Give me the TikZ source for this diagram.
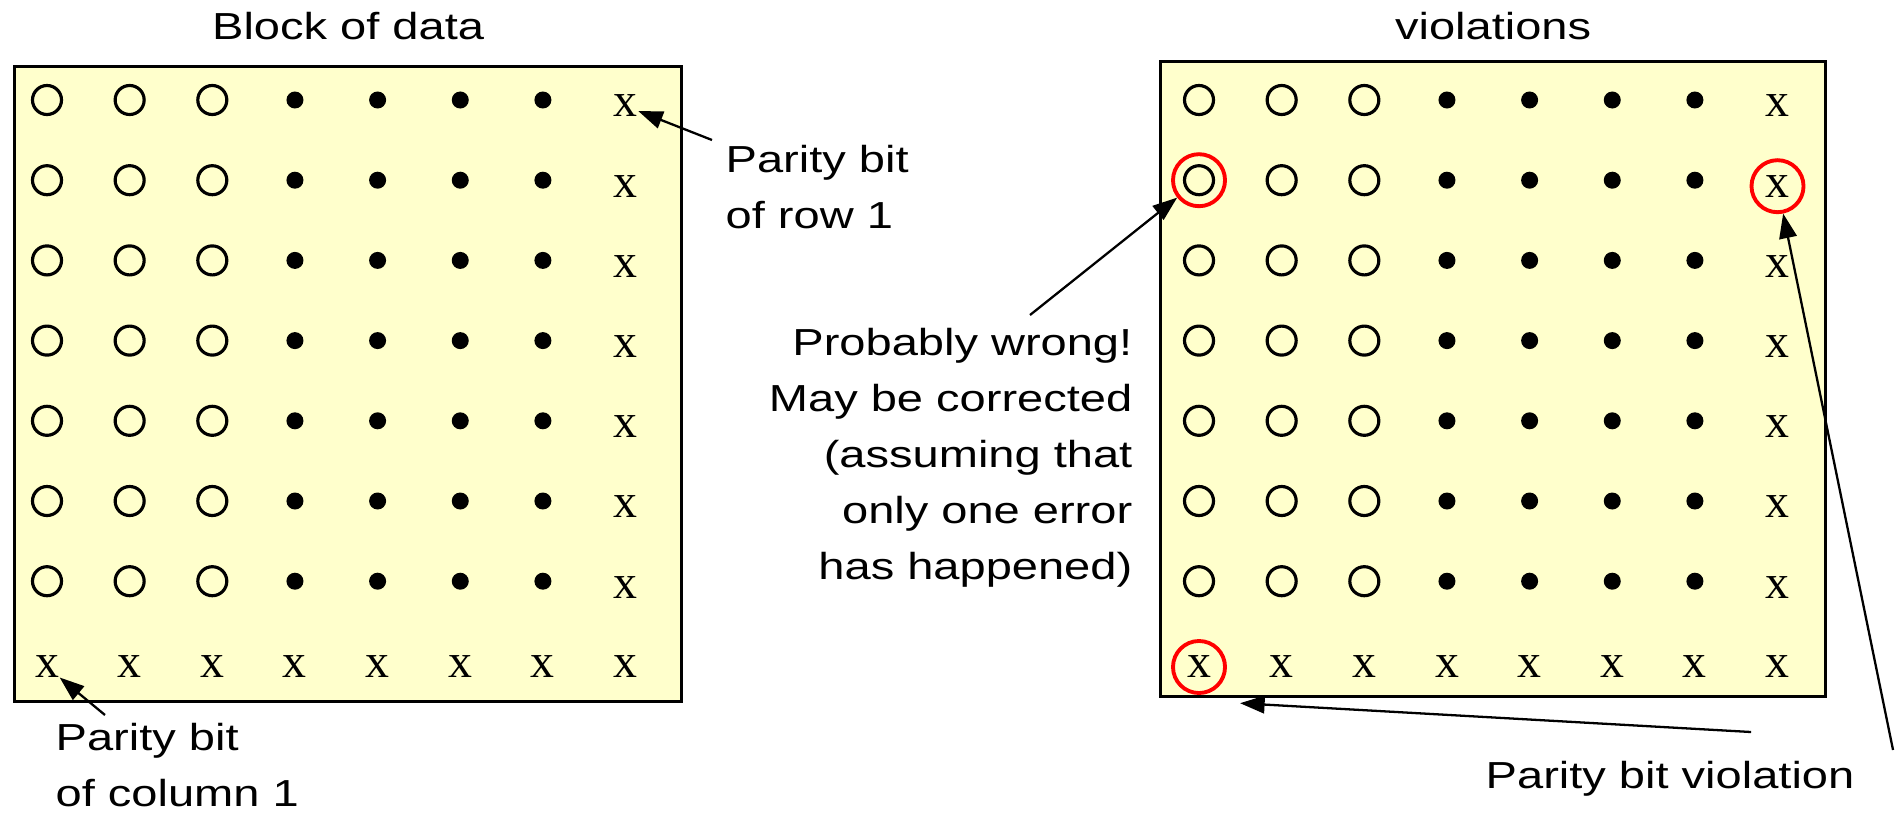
\documentclass[tikz,border=0pt]{standalone}
\usepackage{fontspec}
\usetikzlibrary{arrows.meta}
\newfontfamily\labelfont[FakeStretch=1.25]{Liberation Sans}
\newfontfamily\bitfont{Liberation Serif}
\definecolor{paper}{HTML}{FFFFCC}
\begin{document}
\begin{tikzpicture}
[x=0.01cm, y=-0.01cm,
  boxdecorate/.style={draw,line width=0.8pt,fill=paper,inner sep=0pt,anchor=north west},%
  holedecorate/.style={shape=circle,inner sep=0pt,minimum size=0.29cm,draw,line width=0.9pt},%
  dotdecorate/.style={shape=circle,inner sep=0pt,minimum size=0.17cm,fill=black},%
  bitdecorate/.style={inner sep=0pt,font=\fontsize{13.6}{16}\bitfont},%
  ringdecorate/.style={shape=circle,inner sep=0pt,minimum size=0.52cm,draw=red,line width=1.1pt},%
  textdecorate/.style={inner sep=0pt,font=\fontsize{10.7}{15.9}\labelfont},%
  linedecorate/.style={-{Triangle[length=7pt,width=5pt]},line width=0.65pt}]
\useasboundingbox (0,0) rectangle (1895,812);
%% blocks
\foreach \boxname/\x/\y/\w in {L/13/65/6.67cm, R/1159/60/6.65cm}
{
  \node (\boxname) at (\x,\y) [boxdecorate,minimum width=\w,minimum height=6.35cm] {};
}
%% bits of each block
\foreach \boxname/\xo in {L/47, R/1199}
{
  \foreach \row in {1,...,7}
  {
    \foreach \col in {1,2,3}
      \node (\boxname-\row-\col) at ({\xo+82.65*(\col-1)},{100+80.2*(\row-1)}) [holedecorate] {};
    \foreach \col in {4,...,7}
      \node (\boxname-\row-\col) at ({\xo+82.65*(\col-1)},{100+80.2*(\row-1)}) [dotdecorate] {};
    \node (\boxname-\row-8) at ({\xo+578.5},{106+80.2*(\row-1)}) [bitdecorate] {x};
  }
  \foreach \col in {1,...,8}
    \node (\boxname-8-\col) at ({\xo+82.65*(\col-1)},667) [bitdecorate] {x};
}
%% violations
\foreach \ringname/\target in {ringA/R-2-1, ringB/R-2-8, ringC/R-8-1}
{
  \node (\ringname) at (\target) [ringdecorate] {};
}
%% texts
\node (blocktitle) at ([yshift=0.25cm]L.north) [textdecorate,anchor=base] {Block of data};
\node (violtitle) at ([yshift=0.2cm]R.north) [textdecorate,anchor=base] {violations};
\node (rowlabel) at (725,145) [textdecorate,align=left,anchor=north west] {Parity bit\\of row 1};
\node (collabel) at (55,723) [textdecorate,align=left,anchor=north west] {Parity bit\\of column 1};
\node (wronglabel) at (1133,328) [textdecorate,align=right,anchor=north east]
  {Probably wrong!\\May be corrected\\(assuming that\\only one error\\has happened)};
\node (viollabel) at (1485,761) [textdecorate,anchor=north west] {Parity bit violation};
%% arrows
\foreach \startnode/\sx/\sy/\endnode/\ex/\ey in {rowlabel.north west/-13/-5/L-1-8/28/12,
  collabel.north west/50/-8/L-8-1/15/18,
  wronglabel.north east/-103/-13/ringA/-25/24,
  viollabel.north east/-104/-29/R.south west/81/5,
  viollabel.north east/38/-11/ringB/20/27}
{
  \draw[linedecorate] ([shift={(\sx,\sy)}]\startnode) -- ([shift={(\ex,\ey)}]\endnode);
}
\end{tikzpicture}
\end{document}
